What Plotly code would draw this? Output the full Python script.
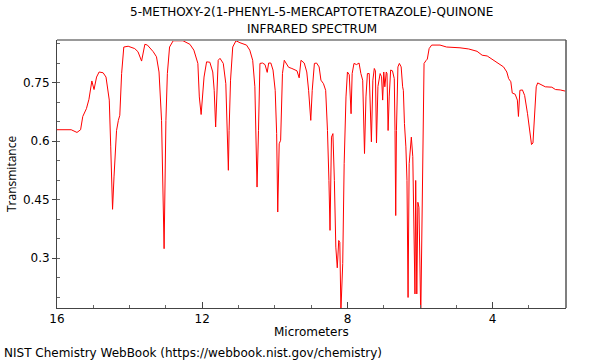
import plotly.graph_objects as go

wavelength_um = [
    16.00, 15.61, 15.45, 15.35, 15.29, 15.19, 15.12, 15.04, 14.98, 14.91, 14.84, 14.73, 14.65, 14.56,
    14.52, 14.47, 14.43, 14.36, 14.31, 14.27, 14.22, 14.16, 14.04, 13.86, 13.77, 13.67, 13.58, 13.51,
    13.35, 13.26, 13.19, 13.12, 13.05, 13.00, 12.96, 12.90, 12.80, 12.53, 12.34, 12.23, 12.12, 12.08,
    12.03, 11.99, 11.95, 11.88, 11.79, 11.71, 11.67, 11.63, 11.59, 11.56, 11.51, 11.42, 11.35, 11.31,
    11.28, 11.26, 11.22, 11.16, 11.07, 10.96, 10.78, 10.69, 10.61, 10.55, 10.49, 10.45, 10.41, 10.34,
    10.27, 10.21, 10.17, 10.11, 10.05, 9.99, 9.95, 9.92, 9.88, 9.84, 9.79, 9.74, 9.70, 9.62, 9.53,
    9.44, 9.39, 9.33, 9.28, 9.19, 9.12, 9.07, 9.01, 8.97, 8.91, 8.85, 8.78, 8.73, 8.66, 8.60, 8.55,
    8.51, 8.48, 8.44, 8.40, 8.36, 8.32, 8.28, 8.24, 8.21, 8.18, 8.13, 8.09, 8.04, 8.00, 7.95, 7.90,
    7.87, 7.82, 7.75, 7.68, 7.63, 7.58, 7.53, 7.49, 7.45, 7.40, 7.34, 7.30, 7.26, 7.23, 7.20, 7.16,
    7.10, 7.06, 7.03, 7.00, 6.97, 6.93, 6.91, 6.88, 6.85, 6.81, 6.76, 6.71, 6.69, 6.67, 6.65, 6.61,
    6.57, 6.52, 6.48, 6.46, 6.43, 6.39, 6.36, 6.33, 6.30, 6.27, 6.24, 6.20, 6.17, 6.14, 6.12, 6.09,
    6.06, 6.03, 5.98, 5.95, 5.92, 5.89, 5.83, 5.80, 5.75, 5.68, 5.45, 5.27, 4.90, 4.66, 4.43, 4.29,
    4.15, 4.02, 3.84, 3.70, 3.61, 3.56, 3.50, 3.46, 3.38, 3.32, 3.29, 3.25, 3.18, 3.12, 3.04, 2.99,
    2.93, 2.89, 2.85, 2.80, 2.76, 2.69, 2.55, 2.37, 2.27, 2.14, 2.00,
]
transmittance = [
    0.629, 0.629, 0.622, 0.629, 0.663, 0.683, 0.707, 0.754, 0.732, 0.764, 0.777, 0.775, 0.764, 0.705,
    0.585, 0.425, 0.508, 0.627, 0.653, 0.666, 0.773, 0.841, 0.843, 0.837, 0.829, 0.805, 0.848, 0.846,
    0.829, 0.816, 0.777, 0.653, 0.324, 0.653, 0.773, 0.841, 0.857, 0.857, 0.848, 0.833, 0.799, 0.713,
    0.668, 0.722, 0.764, 0.803, 0.802, 0.777, 0.730, 0.636, 0.730, 0.807, 0.812, 0.799, 0.747, 0.627,
    0.525, 0.627, 0.756, 0.841, 0.857, 0.852, 0.846, 0.833, 0.807, 0.739, 0.482, 0.627, 0.799, 0.800,
    0.796, 0.776, 0.800, 0.800, 0.782, 0.730, 0.619, 0.418, 0.593, 0.602, 0.773, 0.807, 0.800, 0.789, 0.786,
    0.782, 0.780, 0.762, 0.807, 0.800, 0.777, 0.730, 0.653, 0.730, 0.799, 0.800, 0.790, 0.756, 0.747, 0.730, 0.627,
    0.499, 0.371, 0.610, 0.619, 0.499, 0.328, 0.275, 0.345, 0.340, 0.165, 0.286, 0.542, 0.713, 0.777, 0.770, 0.670,
    0.773, 0.799, 0.796, 0.800, 0.773, 0.756, 0.568, 0.713, 0.773, 0.773, 0.598, 0.756, 0.786, 0.780, 0.595, 0.740,
    0.773, 0.765, 0.705, 0.777, 0.739, 0.777, 0.773, 0.627, 0.713, 0.782, 0.780, 0.760, 0.627, 0.409, 0.627, 0.790,
    0.799, 0.790, 0.739, 0.730, 0.645, 0.585, 0.499, 0.199, 0.542, 0.585, 0.610, 0.560, 0.371, 0.208, 0.499, 0.208,
    0.443, 0.430, 0.150, 0.400, 0.713, 0.799, 0.807, 0.810, 0.837, 0.846, 0.846, 0.841, 0.839, 0.836, 0.830, 0.820,
    0.818, 0.810, 0.800, 0.790, 0.777, 0.760, 0.752, 0.723, 0.720, 0.705, 0.663, 0.730, 0.731, 0.717, 0.670, 0.627,
    0.591, 0.595, 0.670, 0.739, 0.749, 0.746, 0.739, 0.738, 0.732, 0.731, 0.728,
]

x_ticks = [16, 12, 8, 4]
y_ticks = [0.3, 0.45, 0.6, 0.75]
title_lines = ["5-METHOXY-2(1-PHENYL-5-MERCAPTOTETRAZOLE)-QUINONE", "INFRARED SPECTRUM"]

FONT = "DejaVu Sans"

fig = go.Figure()
fig.add_trace(go.Scatter(
    x=wavelength_um, y=transmittance, mode="lines",
    line=dict(color="rgb(255,0,0)", width=1), hoverinfo="skip", showlegend=False,
))

fig.update_layout(
    width=600, height=360,
    margin=dict(l=57, r=34, t=40, b=52, autoexpand=False),
    paper_bgcolor="white", plot_bgcolor="white",
    font=dict(family=FONT, size=12, color="black"),
    showlegend=False,
    xaxis=dict(
        range=[16, 1.98], tickvals=x_ticks, ticktext=[str(v) for v in x_ticks],
        ticks="inside", ticklen=6, tickcolor="#444", showgrid=False, zeroline=False,
        showline=True, linecolor="#444", linewidth=1, automargin=False,
        minor=dict(dtick=1, tick0=0, ticks="inside", ticklen=3, tickcolor="#666"),
        tickfont=dict(family=FONT, size=12),
    ),
    yaxis=dict(
        range=[0.172, 0.859], tickvals=y_ticks, ticktext=["0.3", "0.45", "0.6", "0.75"],
        ticks="outside", ticklen=4, tickcolor="#444", showgrid=False, zeroline=False,
        showline=True, linecolor="#444", linewidth=1, automargin=False,
        minor=dict(dtick=0.05, tick0=0, ticks="inside", ticklen=3, tickcolor="#666"),
        tickfont=dict(family=FONT, size=12),
    ),
    shapes=[
        dict(type="line", xref="paper", yref="paper", x0=0, x1=1, y0=1, y1=1,
             line=dict(color="#999", width=2)),
        dict(type="line", xref="paper", yref="paper", x0=1, x1=1, y0=0, y1=1,
             line=dict(color="#555", width=1.5)),
    ],
    annotations=[
        dict(text=title_lines[0], xref="paper", yref="paper", x=0.5, y=1, yshift=28,
             showarrow=False, xanchor="center", yanchor="middle", font=dict(family=FONT, size=12)),
        dict(text=title_lines[1], xref="paper", yref="paper", x=0.5, y=1, yshift=11,
             showarrow=False, xanchor="center", yanchor="middle", font=dict(family=FONT, size=12)),
        dict(text="Micrometers", xref="paper", yref="paper", x=0.5, y=0, yshift=-24,
             showarrow=False, xanchor="center", yanchor="middle", font=dict(family=FONT, size=12)),
        dict(text="Transmitance", xref="paper", yref="paper", x=0, y=0.5, xshift=-46,
             textangle=-90, showarrow=False, xanchor="center", yanchor="middle",
             font=dict(family="Open Sans", size=12)),
        dict(text="NIST Chemistry WebBook (https://webbook.nist.gov/chemistry)", xref="paper", yref="paper",
             x=0, y=0, xshift=-55, yshift=-45, showarrow=False, xanchor="left", yanchor="middle",
             font=dict(family=FONT, size=12)),
    ],
)

fig.write_html("out.html", config={"displayModeBar": False, "staticPlot": True},
               post_script="document.body.style.margin='0';document.body.style.overflow='hidden';")
